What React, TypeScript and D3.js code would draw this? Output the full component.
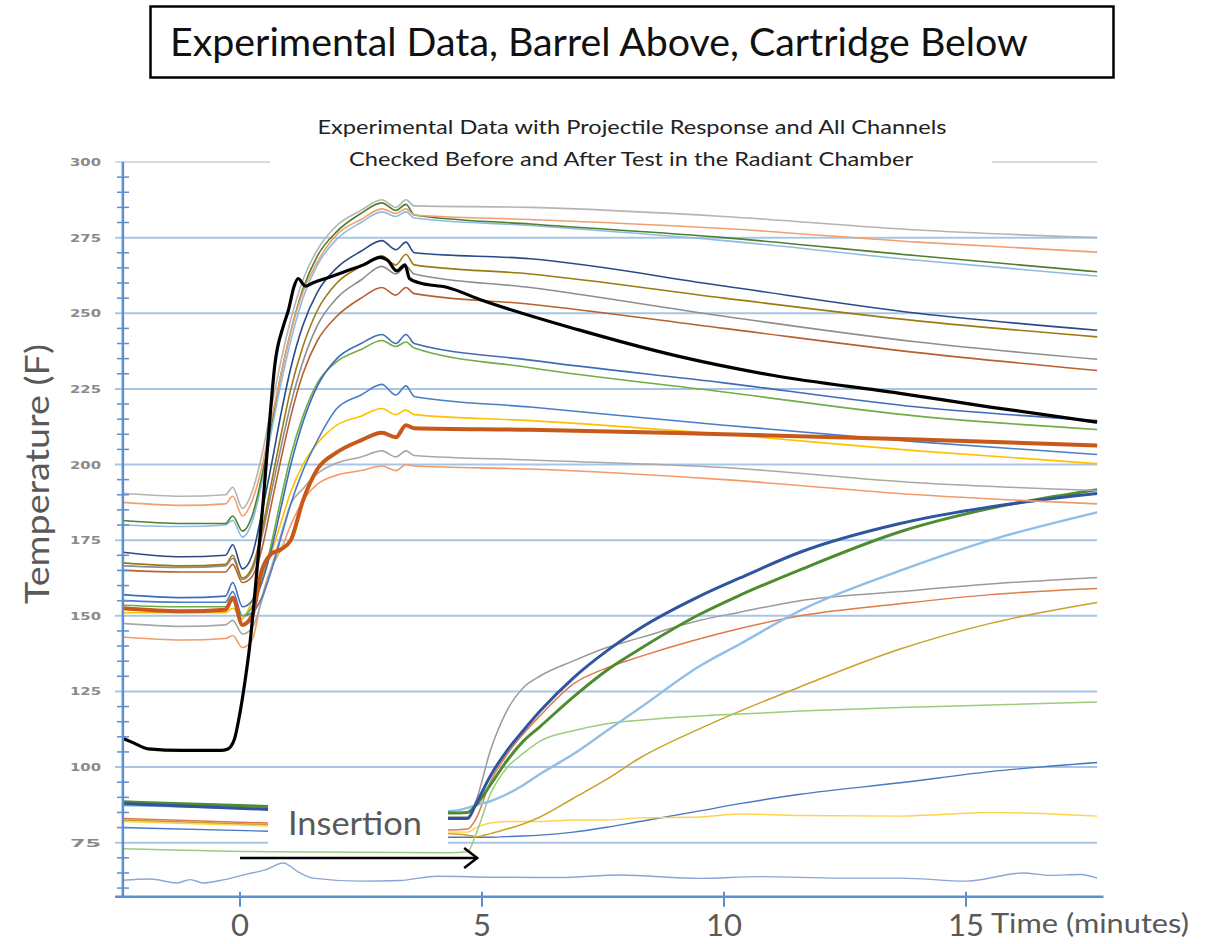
import React from "react";
import * as d3 from "d3";

// ---------- axis ticks ----------
const yMajorTicks = [75, 100, 125, 150, 175, 200, 225, 250, 275];
const yTopTick = 300;
const yMinorTicks = [60, 65, 70, 80, 85, 90, 95, 105, 110, 115, 120, 130, 135, 140, 145, 155, 160, 165, 170, 180, 185, 190, 195, 205, 210, 215, 220, 230, 235, 240, 245, 255, 260, 265, 270, 280, 285, 290, 295];
const xTicks = [0, 5, 10, 15];
const xTickLabels = ["0", "5", "10", "15"];

// ---------- barrel channels (time in minutes) ----------
const barrelTimes = [-2.42, -1.2, -0.3, -0.15, 0.05, 0.25, 0.45, 0.65, 0.85, 1.05, 1.3, 1.6, 2.0, 2.5, 2.93, 3.22, 3.43, 3.6, 6, 10, 14, 17.71];
const barrelGrayTop = [190.5, 189.5, 190, 192.5, 185.5, 191, 203, 219, 234.5, 248, 261, 271, 279, 284, 287.5, 285, 287.5, 285.5, 285, 282, 277.5, 275];
const barrelOrangeTop = [187.5, 186.5, 187, 189.5, 183, 188, 199, 215, 230, 244, 257, 267, 276, 281, 284.5, 283, 284.5, 282.5, 281, 278, 273.5, 270.2];
const barrelGreenDark = [181.5, 180.5, 180.5, 183, 178, 183, 196, 213.5, 230, 244, 258, 269, 277, 283, 286.5, 284, 286, 282.5, 279.5, 275, 269, 263.7];
const barrelLightBlue = [180, 179.5, 180, 181.5, 176, 181, 194, 211, 227, 241, 255, 266, 274.5, 280, 283.5, 282, 283.5, 281.5, 279, 274, 267.5, 262.3];
const barrelNavy = [171, 169.5, 170, 173.5, 165.5, 170, 184, 200, 217, 232, 246, 257, 265, 270.5, 274, 271, 273.5, 270, 268, 259, 250, 244.4];
const barrelOlive = [167.5, 166.5, 167, 170, 162.5, 166, 178, 194, 210, 225, 239, 251, 260, 265.5, 269, 266, 269.5, 266, 263, 255, 247.5, 242.2];
const barrelGrayMid = [166.5, 166, 166.5, 169, 162, 165, 176, 191, 206, 220, 234, 246, 255, 261, 265.5, 263, 265.5, 263, 258.5, 249, 240.5, 234.8];
const barrelBrown = [165, 164.5, 164.5, 167, 161, 163, 172, 187, 202, 216, 230, 241, 249, 255, 258.5, 256, 258.5, 256.5, 253, 245, 237, 231.1];
const barrelBlue1 = [157, 156, 156.5, 161, 153, 155, 161, 172, 186, 200, 214, 226, 235, 240, 243, 240, 243, 240, 234.5, 227, 219, 214.5];
const barrelGreenLight = [153.5, 153, 153, 155, 150, 153, 161, 174, 189, 203, 216, 227, 234, 238, 241, 239, 240.5, 238.5, 232, 224, 216, 211.6];
const barrelBlue2 = [155, 154.5, 154.5, 158, 150, 151, 156, 165, 176, 187, 198, 208, 218.5, 223, 226.5, 223, 226, 222.5, 219, 213, 207.5, 203.3];
const barrelYellow = [151, 151, 151, 152.5, 149, 155, 163, 171, 181, 191, 200, 207, 213, 216, 218.5, 216.5, 218, 216.5, 214.5, 210, 204.5, 200.3];
const barrelOrangeThick = [152.5, 151.5, 152, 156, 147, 150, 165, 170.5, 172, 175, 188, 198.5, 204, 208, 210.5, 209, 213, 212, 211.5, 210, 208.3, 206.3];
const barrelGrayLow = [147.5, 146.5, 147, 148.5, 144, 146, 155, 166, 177, 187, 192, 197, 200.5, 202.5, 204.5, 202.5, 204.5, 203, 201.5, 199, 194, 191.4];
const barrelOrangeLow = [143, 142, 142.5, 143.5, 139.5, 142, 156, 166, 172, 180, 188, 193.5, 196.5, 198, 199.5, 198, 200, 199.5, 198.5, 195, 190, 187];

// ---------- projectile response (black) ----------
const projectileTimes = [-2.42, -2.2, -1.9, -1.2, -0.4, -0.25, -0.12, 0.0, 0.1, 0.2, 0.35, 0.48, 0.6, 0.72, 0.9, 1.0, 1.12, 1.2, 1.35, 1.5, 1.86, 2.2, 2.55, 2.9, 3.05, 3.24, 3.41, 3.5, 3.72, 4.27, 5, 7, 9, 11, 13.6, 15.5, 17.71];
const projectileValues = [109.5, 108, 106, 105.5, 105.5, 106, 109, 118, 128, 140, 165, 188, 212, 233, 246, 251, 259, 261.5, 259, 260, 262, 264, 266, 268.5, 267.5, 264, 266, 261.5, 260, 258.6, 254.3, 244.5, 236, 229.5, 223.6, 219, 214];

// ---------- cartridge channels ----------
const cartTimes = [-2.42, 0.6, 4.3, 4.7, 4.88, 5.17, 5.51, 5.85, 6.2, 6.89, 7.58, 8.26, 9.5, 10.33, 11.57, 13.64, 15.5, 17.71];
const cartGray = [87.5, 86, 83.5, 83.5, 89, 105.3, 118.5, 126.2, 130.1, 135.1, 139.5, 142.7, 148.5, 151.2, 155, 158, 160.5, 162.7];
const cartNavy = [87.9, 86, 83, 83, 88, 97, 105.3, 112, 118.5, 129.5, 138.4, 145.8, 156.5, 162.5, 171, 180.5, 186, 190.4];
const cartGreen = [88.5, 87, 84.8, 85, 87.5, 94, 102, 108.5, 113.4, 123.2, 132, 139, 150.5, 156.8, 165.2, 177.8, 185.5, 191.7];
const cartOrange = [83, 81.5, 79.2, 79.5, 83, 95, 104, 110.9, 117, 127.5, 132.8, 136.5, 142.4, 145.8, 150, 154, 157, 159];
const cartLightGreen = [73, 72, 71.7, 72, 78, 91, 99.7, 104.5, 108.6, 112, 114.3, 115.5, 116.9, 117.5, 118.5, 119.7, 120.5, 121.5];
const cartLightBlue = [87.4, 86.5, 85.4, 86.5, 87.5, 88.7, 91, 94, 97.7, 104.3, 112, 119.5, 133.4, 140.7, 151.7, 164.9, 175, 184.2];
const cartGold = [82.5, 81, 78, 77.5, 77, 78, 79.5, 81.2, 83.5, 89.7, 96, 103, 112.7, 118.5, 126.5, 139, 147.5, 154.4];
const cartYellow = [82, 80.5, 78.5, 78.5, 80, 81.5, 82, 82, 82, 82.5, 82.5, 83.2, 83.5, 84.5, 84, 83.8, 85, 83.8];
const cartBlue = [80, 78.8, 76.8, 76.8, 76.8, 76.8, 77, 77.2, 77.5, 78.5, 80.1, 82, 85.5, 87.9, 91, 94.8, 98.5, 101.5];

// ---------- ambient (bottom) ----------
const ambientTimes = [-2.42, -1.86, -1.3, -1.03, -0.76, -0.41, 0.14, 0.52, 0.89, 1.24, 1.51, 2.48, 3.3, 4.07, 5.23, 6.6, 7.85, 9.5, 10.74, 12.4, 13.64, 15.02, 16.18, 16.74, 17.36, 17.71];
const ambientValues = [62.6, 63, 61.7, 62.8, 61.7, 62.5, 64.6, 66, 68.3, 65, 63.3, 62.3, 62.5, 63.9, 63.6, 63.5, 64.3, 63.2, 63.8, 63.3, 63.3, 62.3, 65, 64.2, 64.5, 63.3];

// ---------- series tables (styles kept separately) ----------
const cartridgeSeries = [
  { values: cartBlue, color: "#4a78c0", width: 1.4, times: cartTimes },
  { values: cartYellow, color: "#ffd24d", width: 1.4, times: cartTimes },
  { values: cartGold, color: "#c9a227", width: 1.5, times: cartTimes },
  { values: cartLightGreen, color: "#9ccc7c", width: 1.5, times: cartTimes },
  { values: cartGray, color: "#9a9a9a", width: 1.5, times: cartTimes },
  { values: cartOrange, color: "#e07a4a", width: 1.5, times: cartTimes },
  { values: cartLightBlue, color: "#8fbfe8", width: 2.4, times: cartTimes },
  { values: cartGreen, color: "#4e8c32", width: 3, times: cartTimes },
  { values: cartNavy, color: "#2f55a0", width: 3, times: cartTimes },
  { values: ambientValues, color: "#8aa6d6", width: 1.4, times: ambientTimes },
];

const barrelSeries = [
  { values: barrelOrangeLow, color: "#f29a6a", width: 1.6 },
  { values: barrelGrayLow, color: "#a8a8a8", width: 1.6 },
  { values: barrelYellow, color: "#ffc000", width: 1.6 },
  { values: barrelBlue2, color: "#4a7cc8", width: 1.6 },
  { values: barrelGreenLight, color: "#70ad47", width: 1.6 },
  { values: barrelBlue1, color: "#3f6bb8", width: 1.6 },
  { values: barrelBrown, color: "#b8612e", width: 1.6 },
  { values: barrelGrayMid, color: "#8e8e8e", width: 1.6 },
  { values: barrelOlive, color: "#9c7a12", width: 1.6 },
  { values: barrelNavy, color: "#2a4a86", width: 1.6 },
  { values: barrelLightBlue, color: "#8dbbe4", width: 1.6 },
  { values: barrelGreenDark, color: "#4d7f2c", width: 1.6 },
  { values: barrelOrangeTop, color: "#f0a070", width: 1.6 },
  { values: barrelGrayTop, color: "#b4b4b4", width: 1.6 },
  { values: barrelOrangeThick, color: "#c8591a", width: 4 },
];

const W = 1214;
const H = 944;

export default function App() {
  const x = d3.scaleLinear().domain([0, 15]).range([240, 966]);
  const y = d3.scaleLinear().domain([75, 300]).range([842.7, 162]);
  const xLeft = x(-2.42);
  const xRight = x(17.71);
  const xAxisEnd = x(17.84);
  const yBottom = y(57.15);

  const line = d3
    .line<[number, number]>()
    .x((d) => x(d[0]))
    .y((d) => y(d[1]))
    .curve(d3.curveMonotoneX);

  const pts = (times: number[], vals: number[]) =>
    times.map((t, i) => [t, vals[i]] as [number, number]);

  const font = "Lato, 'Open Sans', sans-serif";
  const grid = "#a9c5e6";
  const axisColor = "#5b8fd0";

  return (
    <svg width={W} height={H} style={{ position: "absolute", left: 0, top: 0, background: "#fff" }}>
      <rect x={0} y={0} width={W} height={H} fill="#fff" />

      {/* gridlines */}
      <line x1={115} x2={xRight} y1={y(yTopTick)} y2={y(yTopTick)} stroke="#d9d9d9" strokeWidth={2} />
      {yMajorTicks.map((v) => (
        <line key={"g" + v} x1={115} x2={xRight} y1={y(v)} y2={y(v)} stroke={grid} strokeWidth={2} />
      ))}

      {/* cartridge */}
      {cartridgeSeries.map((s, i) => (
        <path key={"c" + i} d={line(pts(s.times, s.values)) || ""} fill="none" stroke={s.color} strokeWidth={s.width} strokeLinejoin="round" />
      ))}

      {/* barrel */}
      {barrelSeries.map((s, i) => (
        <path key={"b" + i} d={line(pts(barrelTimes, s.values)) || ""} fill="none" stroke={s.color} strokeWidth={s.width} strokeLinejoin="round" />
      ))}

      {/* projectile */}
      <path d={line(pts(projectileTimes, projectileValues)) || ""} fill="none" stroke="#000" strokeWidth={3.2} strokeLinejoin="round" />

      {/* axes */}
      <line x1={xLeft} x2={xLeft} y1={y(yTopTick)} y2={yBottom} stroke={axisColor} strokeWidth={2.5} />
      {yMinorTicks.map((v) => (
        <line key={"m" + v} x1={117} x2={129} y1={y(v)} y2={y(v)} stroke={axisColor} strokeWidth={1.5} />
      ))}
      <line x1={115} x2={xAxisEnd} y1={yBottom} y2={yBottom} stroke={axisColor} strokeWidth={2.5} />
      {xTicks.map((t) => (
        <line key={"xt" + t} x1={x(t)} x2={x(t)} y1={yBottom - 5} y2={yBottom + 10} stroke={axisColor} strokeWidth={2} />
      ))}

      {/* y tick labels */}
      {[...yMajorTicks, yTopTick].map((v) => (
        <text key={"yl" + v} x={101} y={y(v) + 4} textAnchor="end" fontFamily="'DejaVu Sans', sans-serif" fontWeight="bold" fontSize={11} fill="#8a8a8a" textLength={31} lengthAdjust="spacingAndGlyphs">
          {String(v)}
        </text>
      ))}

      {/* x tick labels */}
      {xTicks.map((t, i) => (
        <text key={"xl" + t} x={x(t)} y={936} textAnchor="middle" fontFamily={font} fontSize={31} fill="#595959">
          {xTickLabels[i]}
        </text>
      ))}
      <text x={991} y={933} fontFamily={font} fontSize={27} fill="#595959" textLength={198} lengthAdjust="spacingAndGlyphs">Time (minutes)</text>

      {/* y axis title */}
      <text transform="translate(49,474) rotate(-90)" textAnchor="middle" fontFamily={font} fontSize={33} fill="#595959" textLength={260} lengthAdjust="spacingAndGlyphs">
        Temperature (F)
      </text>

      {/* subtitle */}
      <rect x={270} y={106} width={722} height={68} fill="#fff" />
      <text x={632} y={134} textAnchor="middle" fontFamily={font} fontSize={20} fill="#222" textLength={629} lengthAdjust="spacingAndGlyphs">
        Experimental Data with Projectile Response and All Channels
      </text>
      <text x={631} y={166} textAnchor="middle" fontFamily={font} fontSize={20} fill="#222" textLength={564} lengthAdjust="spacingAndGlyphs">
        Checked Before and After Test in the Radiant Chamber
      </text>

      {/* insertion annotation */}
      <rect x={268} y={797} width={180} height={54} fill="#fff" />
      <text x={288} y={835} fontFamily={font} fontSize={33} fill="#595959" textLength={134} lengthAdjust="spacingAndGlyphs">Insertion</text>
      <line x1={x(0)} x2={x(4.9)} y1={858} y2={858} stroke="#000" strokeWidth={2.5} />
      <polyline points={`${x(4.9) - 13},${848} ${x(4.9)},${858} ${x(4.9) - 13},${868}`} fill="none" stroke="#000" strokeWidth={2.5} />

      {/* title box */}
      <rect x={150.5} y={6.5} width={963} height={71} fill="#fff" stroke="#000" strokeWidth={2.5} />
      <text x={170} y={56} fontFamily={font} fontSize={38} fill="#111" textLength={858} lengthAdjust="spacingAndGlyphs">
        Experimental Data, Barrel Above, Cartridge Below
      </text>
    </svg>
  );
}
